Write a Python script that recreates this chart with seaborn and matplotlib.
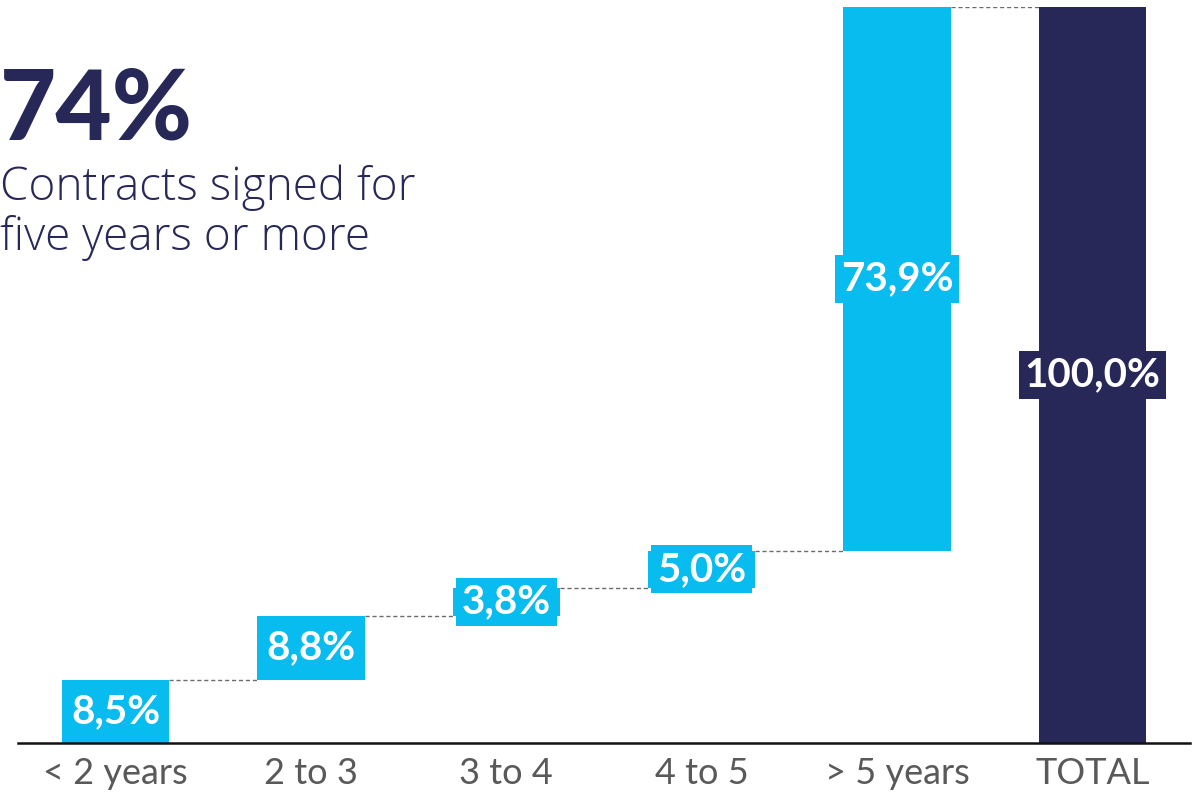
import matplotlib
matplotlib.use("Agg")
import matplotlib.pyplot as plt
import seaborn as sns
import numpy as np

categories = ["< 2 years", "2 to 3", "3 to 4", "4 to 5", "> 5 years", "TOTAL"]
values = [8.5, 8.8, 3.8, 5.0, 73.9, 100.0]
labels = ["8,5%", "8,8%", "3,8%", "5,0%", "73,9%", "100,0%"]

CYAN = "#08BCEF"
NAVY = "#282858"
GREY = "#595959"

sns.set_theme(style="white")
plt.rcParams["font.family"] = ["Lato", "DejaVu Sans"]

# waterfall bottoms: cumulative for steps, 0 for total
bottoms = list(np.concatenate([[0], np.cumsum(values[:-2])])) + [0]

fig = plt.figure(figsize=(12.02, 7.94), dpi=100)
ax = fig.add_axes([18 / 1202, 51 / 794, 1172 / 1202, 736 / 794])

sns.barplot(x=categories, y=values, bottom=bottoms, color=CYAN, width=0.55,
            saturation=1, ax=ax, linewidth=0)
patches = ax.patches
patches[-1].set_facecolor(NAVY)

# connectors
for i in range(len(values) - 1):
    top = bottoms[i] + values[i]
    x0 = i + 0.275
    x1 = i + 1 - 0.275
    ax.plot([x0, x1], [top, top], ls=(0, (3, 2)), color="#6b6b6b", lw=1.0)

# value labels
for i, (b, v, lab) in enumerate(zip(bottoms, values, labels)):
    col = NAVY if i == len(values) - 1 else CYAN
    ax.text(i, b + v / 2, lab, ha="center", va="center", color="white",
            fontsize=29, fontweight="bold",
            bbox=dict(boxstyle="square,pad=0.14", facecolor=col, edgecolor="none"))

ax.set_xlim(-0.5, 5.5)
ax.set_ylim(0, 100)
ax.set_yticks([])
for s in ["top", "left", "right"]:
    ax.spines[s].set_visible(False)
ax.spines["bottom"].set_color("#111111")
ax.spines["bottom"].set_linewidth(1.8)
ax.tick_params(axis="x", length=0, pad=10, labelsize=26, labelcolor=GREY)
for t in ax.get_xticklabels():
    t.set_fontweight("normal")
ax.set_xlabel("")
ax.set_ylabel("")

fig.text(0.0, 1 - 140 / 794, "74%", fontsize=70, fontweight="black", color=NAVY,
         ha="left", va="baseline")
sub_font = ["Open Sans", "DejaVu Sans"]
fig.text(0.0, 1 - 200 / 794, "Contracts signed for", fontsize=33, fontweight="light",
         family=sub_font, color=NAVY, ha="left", va="baseline")
fig.text(0.0, 1 - 250 / 794, "five years or more", fontsize=33, fontweight="light",
         family=sub_font, color=NAVY, ha="left", va="baseline")

fig.savefig("out.png", dpi=100)
